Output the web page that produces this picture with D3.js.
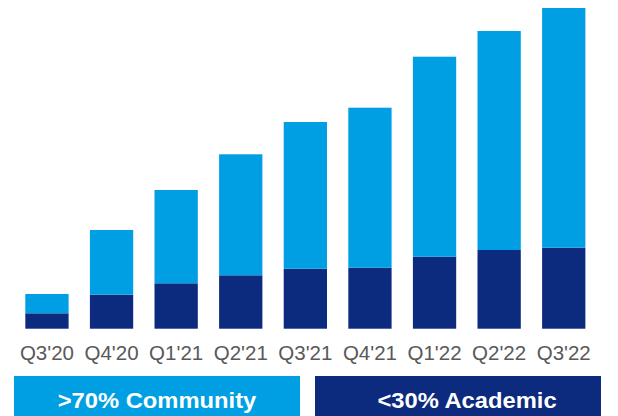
<!DOCTYPE html>
<html>
<head>
<meta charset="utf-8">
<script src="https://cdn.jsdelivr.net/npm/d3@7"></script>
<style>
body { margin: 0; background: white; }
svg { display: block; }
</style>
</head>
<body>
<script>
const largeur = 618;
const hauteur = 416;

// valeurs (unites arbitraires)
const trimestres = ["Q3'20", "Q4'20", "Q1'21", "Q2'21", "Q3'21", "Q4'21", "Q1'22", "Q2'22", "Q3'22"];
const academique = [15.4, 34, 45.4, 53.4, 60, 61, 72, 78.7, 81];
const communaute = [19.3, 64.7, 93.3, 121, 146.7, 160, 200, 219, 239.7];
const legendes = [">70% Community", "<30% Academic"];

const bleuClair = "#009fe3";
const bleuFonce = "#0c2a7e";

const svg = d3
.select("body")
.append("svg")
.attr("width", largeur)
.attr("height", hauteur);

const x = d3.scaleBand()
.domain(trimestres)
.range([4, 606.7])
.paddingInner(0.33)
.paddingOuter(0.33);

const totalMax = d3.max(trimestres, function(d, i) { return academique[i] + communaute[i]; });

const y = d3.scaleLinear()
.domain([0, totalMax])
.range([328.7, 8]);

const donnees = trimestres.map(function(t, i)
{
    return { trimestre: t, academique: academique[i], communaute: communaute[i] };
});

const pile = d3.stack().keys(["academique", "communaute"])(donnees);
const couleurs = { academique: bleuFonce, communaute: bleuClair };

svg.selectAll("g.serie")
.data(pile)
.enter()
.append("g")
.attr("class", "serie")
.attr("fill", function(d) { return couleurs[d.key]; })
.selectAll("rect")
.data(function(d) { return d; })
.enter()
.append("rect")
.attr("x", function(d) { return x(d.data.trimestre); })
.attr("y", function(d) { return y(d[1]); })
.attr("width", x.bandwidth())
.attr("height", function(d) { return y(d[0]) - y(d[1]); });

// etiquettes des trimestres
const axe = svg.append("g")
.attr("transform", "translate(0,360)")
.call(d3.axisBottom(x).tickSize(0).tickPadding(0));

axe.select(".domain").remove();

axe.selectAll("text")
.attr("dy", 0)
.attr("y", 0)
.attr("fill", "#595959")
.style("font-family", "Arial, 'Liberation Sans', sans-serif")
.style("font-size", "20.5px");

// boites de legende
const boites = [
    { texte: legendes[0], x0: 14, x1: 300, decalage: 0, couleur: bleuClair },
    { texte: legendes[1], x0: 315, x1: 601, decalage: 9, couleur: bleuFonce }
];

const legende = svg.selectAll("g.legende")
.data(boites)
.enter()
.append("g")
.attr("class", "legende");

legende.append("rect")
.attr("x", function(d) { return d.x0; })
.attr("y", 376)
.attr("width", function(d) { return d.x1 - d.x0; })
.attr("height", 40)
.attr("fill", function(d) { return d.couleur; });

legende.append("text")
.attr("transform", function(d) { return "translate(" + ((d.x0 + d.x1) / 2 + d.decalage) + ",407.7) scale(1.08,1)"; })
.attr("text-anchor", "middle")
.attr("fill", "white")
.style("font-family", "Arial, 'Liberation Sans', sans-serif")
.style("font-weight", "bold")
.style("font-size", "22px")
.text(function(d) { return d.texte; });
</script>
</body>
</html>
